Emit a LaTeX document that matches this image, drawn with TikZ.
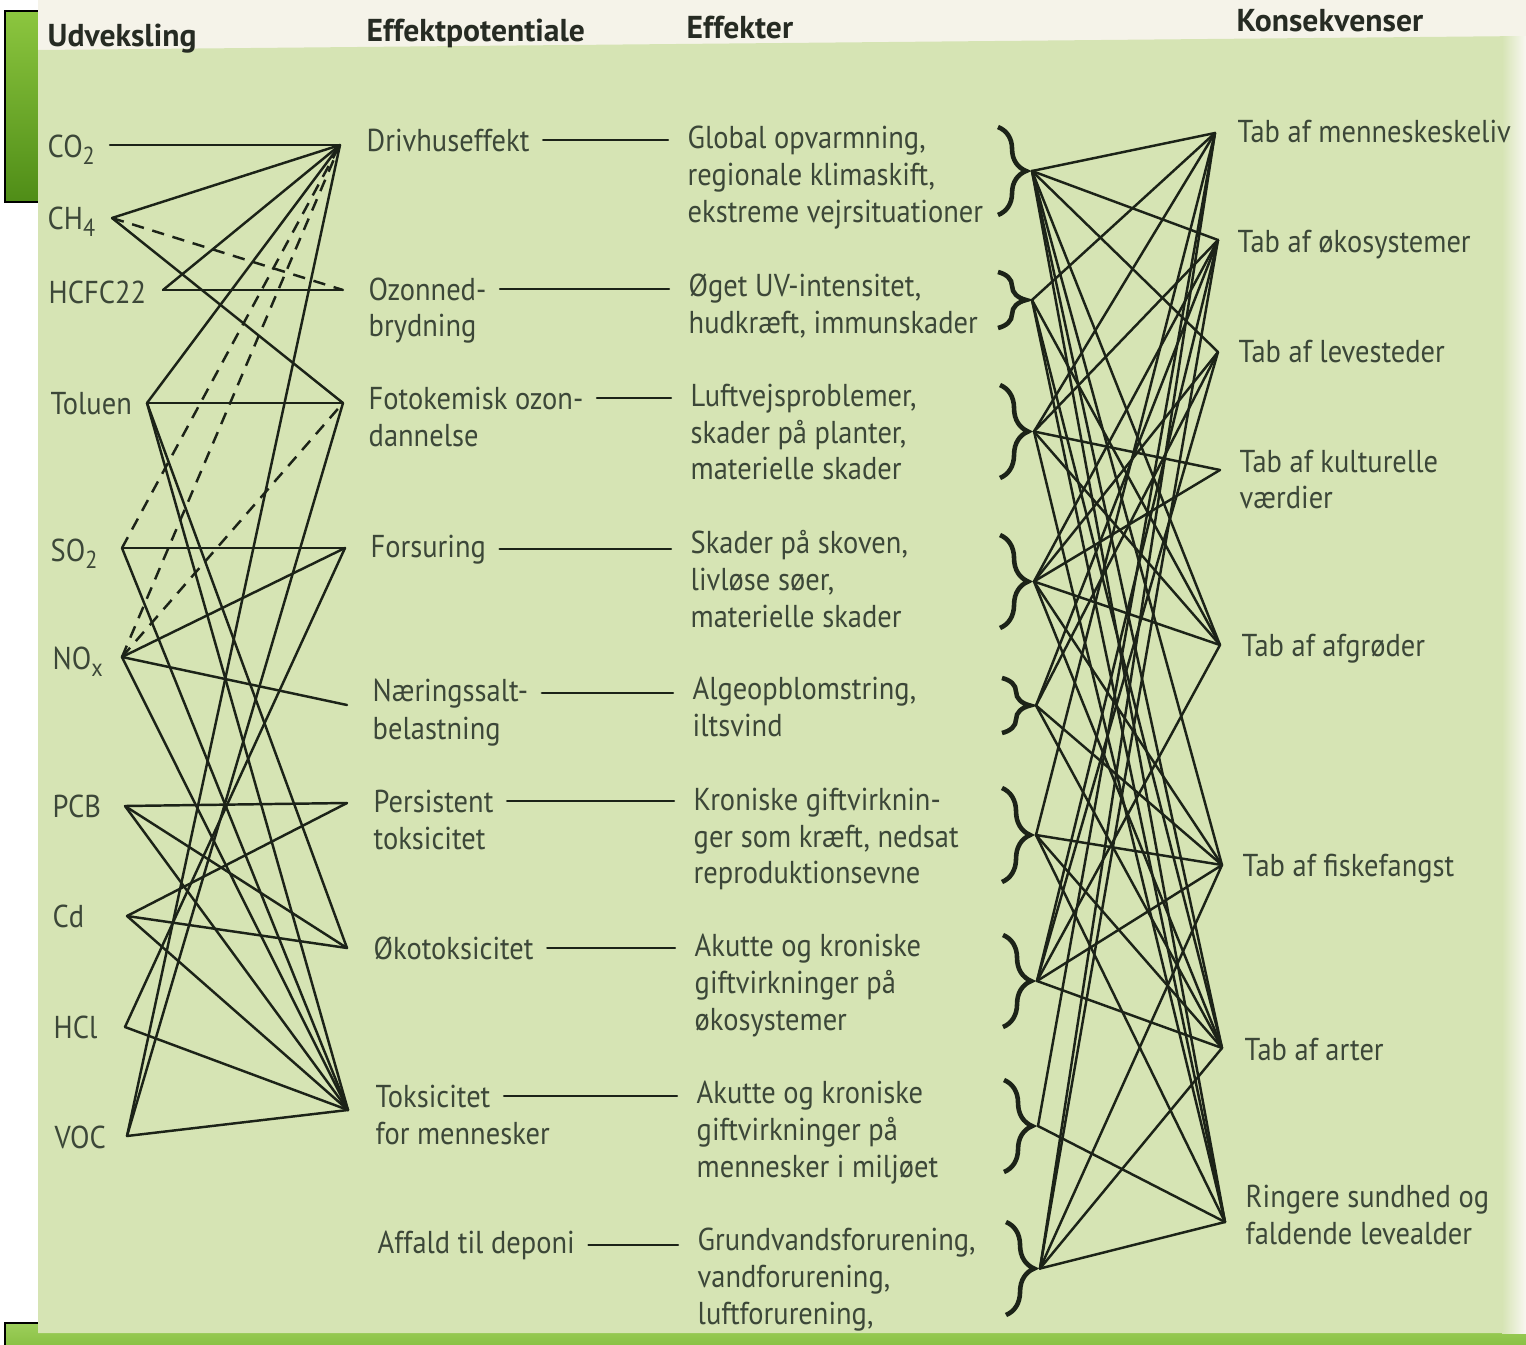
\documentclass[tikz,border=0pt]{standalone}
\usepackage{fontspec}
\setmainfont{PT Sans}[FakeStretch=0.9]
\newfontfamily\headfont{PT Sans}
\usetikzlibrary{calc,decorations.pathreplacing}
\definecolor{Page}{HTML}{D6E4B4}
\definecolor{Paper}{HTML}{F5F3E9}
\definecolor{Ink}{HTML}{1C2318}
\definecolor{Txt}{HTML}{3C4738}
\definecolor{Head}{HTML}{262B23}
\definecolor{Leaf}{HTML}{8CC63F}
\definecolor{LeafDk}{HTML}{4F8D17}
\newcommand\chemsub[1]{\raisebox{-0.45ex}{\fontsize{7}{8}\selectfont#1}}

\begin{document}
\begin{tikzpicture}[x=0.01cm,y=-0.01cm,
    lbl/.style={anchor=base west,inner sep=0pt,text=Txt,font=\fontsize{9}{10.5}\selectfont},
    blk/.style={lbl,anchor=north west,align=left},
    hd/.style={lbl,text=Head,font=\fontsize{9}{10.5}\headfont\bfseries},
    wire/.style={draw=Ink,line width=0.7pt,line cap=round},
    link/.style={wire,line cap=butt,dash pattern=on 3.5pt off 2.5pt},
    brc/.style={draw=Ink,line width=1.3pt,decorate,decoration={brace,amplitude=8pt}}]

\useasboundingbox (0,0) rectangle (1526,1345);
\fill[white] (0,0) rectangle (1526,1345);
% green tabs behind the page
\draw[line width=0.8pt,top color=Leaf,bottom color=LeafDk] (5,11) rectangle (60,202);
\draw[line width=0.8pt,top color=Leaf!85!white,bottom color=Leaf!75!LeafDk] (5,1323) rectangle (1540,1360);
\fill[Paper] (38,0) rectangle (1526,52);
\fill[Page] (38,50) -- (1526,36) -- (1526,1333) -- (38,1333) -- cycle;
\shade[left color=Page,right color=Paper!60!white] (1502,36) rectangle (1526,1333);

\foreach \t/\x/\y in {Udveksling/47/46,Effektpotentiale/366/41,Effekter/686/38,Konsekvenser/1236/31}
  \node[hd] (hd\t) at (\x,\y) {\t};

\foreach \n/\x/\y/\t in {1/47/157/CO\chemsub{2},2/47/229/CH\chemsub{4},3/48/303/HCFC22,
    4/50/414/Toluen,5/50/561/SO\chemsub{2},6/52/669/NO\chemsub{x},7/52/817/PCB,
    8/52/927/Cd,9/53/1038/HCl,10/54/1148/VOC}
  \node[lbl] (sub\n) at (\x,\y) {\t};

\foreach \n/\x/\y/\t in {1/366/151/Drivhuseffekt,2/368/300/Ozonned-,3/368/409/Fotokemisk ozon-,
    4/370/557/Forsuring,5/372/701/Næringssalt-,6/373/812/Persistent,7/373/959/Økotoksicitet,
    8/375/1107/Toksicitet,9/377/1253/Affald til deponi}
  \node[lbl] (pot\n) at (\x,\y) {\t};
\foreach \n/\x/\y/\t in {2/368/336/brydning,3/368/446/dannelse,5/372/739/belastning,
    6/373/849/toksicitet,8/375/1144/for mennesker}
  \node[lbl] (pot\n b) at (\x,\y) {\t};

\foreach \n/\x/\y/\t in {
    {1/687/125/Global opvarmning,\\regionale klimaskift,\\ekstreme vejrsituationer},
    {2/688/273/Øget UV-intensitet,\\hudkræft, immunskader},
    {3/690/383/Luftvejsproblemer,\\skader på planter,\\materielle skader},
    {4/690/530/Skader på skoven,\\livløse søer,\\materielle skader},
    {5/692/676/Algeopblomstring,\\iltsvind},
    {6/693/787/Kroniske giftvirknin-\\ger som kræft, nedsat\\reproduktionsevne},
    {7/694/933/Akutte og kroniske\\giftvirkninger på\\økosystemer},
    {8/696/1080/Akutte og kroniske\\giftvirkninger på\\mennesker i miljøet},
    {9/697/1227/Grundvandsforurening,\\vandforurening,\\luftforurening,}}{
  \node[blk] (eff\n) at (\x,\y) {\t};
  \draw[wire,shorten <=3.7pt,shorten >=5.4pt] (pot\n.east) -- (pot\n.east -| eff\n.west);
}

\foreach \n/\x/\y/\t in {{1/1237/119/Tab af menneskeskeliv},{2/1237/229/Tab af økosystemer},
    {3/1238/339/Tab af levesteder},{4/1239/449/Tab af kulturelle\\værdier},
    {5/1241/633/Tab af afgrøder},{6/1242/853/Tab af fiskefangst},{7/1244/1037/Tab af arter},
    {8/1245/1184/Ringere sundhed og\\faldende levealder}}
  \node[blk] (kon\n) at (\x,\y) {\t};

\foreach \n/\x/\t/\b in {1/998/127/215,2/998/272/328,3/1000/385/478,4/1000/535/628,5/1002/678/733,
    6/1002/788/882,7/1003/935/1027,8/1004/1080/1172,9/1006/1222/1315}{
  \draw[brc] (\x,\t) -- (\x,\b);
  \coordinate (c\n) at (\x+34,{(\t+\b)/2});
}

\foreach \n/\x/\y in {1/110/145,2/112/218,3/163/290,4/147/403,5/122/548,6/122/657,
    7/125/806,8/127/916,9/125/1027,10/127/1136}
  \coordinate (a\n) at (\x,\y);
\foreach \n/\x/\y in {1/340/145,2/343/290,3/343/403,4/345/548,5/347/705,6/347/803,7/347/948,8/348/1110}
  \coordinate (b\n) at (\x,\y);
\foreach \n/\x/\y in {1/1215/133,2/1218/240,3/1218/352,4/1220/470,5/1220/645,6/1222/865,7/1222/1048,8/1225/1222}
  \coordinate (d\n) at (\x,\y);

\foreach \i/\j in {1/1,2/1,2/3,3/1,3/2,4/1,4/3,4/7,4/8,5/4,5/8,6/4,6/5,6/8,7/6,7/7,7/8,
    8/6,8/7,8/8,9/4,9/8,10/1,10/3,10/8}
  \draw[wire] (a\i) -- (b\j);
\foreach \i/\j in {2/2,5/1,6/1,6/3}
  \draw[link] (a\i) -- (b\j);

\foreach \i/\j in {1/1,1/2,1/3,1/5,1/6,1/7,1/8,2/1,2/5,2/7,2/8,3/1,3/2,3/4,3/5,3/8,
    4/2,4/3,4/4,4/5,4/6,4/7,5/2,5/3,5/6,5/7,6/1,6/6,6/7,6/8,7/2,7/3,7/5,7/6,7/7,
    8/1,8/8,9/1,9/2,9/6,9/7,9/8}
  \draw[wire] (c\i) -- (d\j);
\end{tikzpicture}
\end{document}
